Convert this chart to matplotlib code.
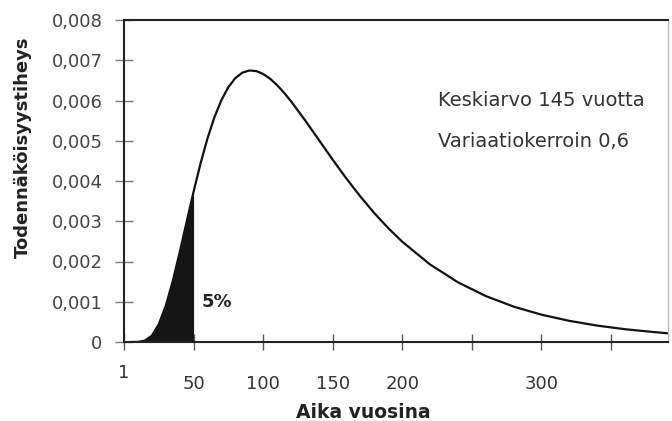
import numpy as np
import matplotlib
matplotlib.use("Agg")
import matplotlib.pyplot as plt
import matplotlib.transforms as mtransforms

# values (years, probability density)
years = [5, 10, 15, 20, 25, 30, 35, 40, 45, 50, 55, 60, 65, 70, 75, 80, 85, 90,
         95, 100, 105, 110, 115, 120, 130, 140, 150, 160, 170, 180, 190, 200,
         220, 240, 260, 280, 300, 320, 340, 360, 380, 391]
density = [0.0, 0.0000024, 0.0000332, 0.000158, 0.000439, 0.000896, 0.001507,
           0.002221, 0.002981, 0.003732, 0.004434, 0.005057, 0.005585, 0.006009,
           0.006331, 0.006555, 0.006690, 0.006745, 0.006732, 0.006660, 0.006541,
           0.006383, 0.006194, 0.005983, 0.005516, 0.005023, 0.004529, 0.004055,
           0.003610, 0.003199, 0.002827, 0.002491, 0.001926, 0.001484, 0.001142,
           0.000880, 0.000679, 0.000526, 0.000408, 0.000318, 0.000249, 0.000217]
shade_limit = 50  # lower 5 % tail

tick_pos = [0, 50, 100, 150, 200, 250, 300, 350]
tick_labels = ['1', '50', '100', '150', '200', '', '300', '']
ytick_pos = [0, 0.001, 0.002, 0.003, 0.004, 0.005, 0.006, 0.007, 0.008]
ytick_labels = ['0', '0,001', '0,002', '0,003', '0,004', '0,005', '0,006', '0,007', '0,008']

x = np.array(years)
y = np.array(density)

fig = plt.figure(figsize=(6.72, 4.21), dpi=100)
ax = fig.add_axes([124/672, 1 - 342/421, 544/672, 322/421])

ax.plot(x, y, color='#111111', lw=1.6)
mask = x <= shade_limit
ax.fill_between(x[mask], 0, y[mask], color='#151515', lw=0)

ax.set_xlim(0, 391)
ax.set_ylim(0, 0.008)

ax.set_xticks(tick_pos)
ax.set_xticklabels(tick_labels)
ax.set_yticks(ytick_pos)
ax.set_yticklabels(ytick_labels)

ax.tick_params(axis='x', direction='inout', length=11, width=1, pad=18,
               labelsize=13, labelcolor='#333333', color='#555555')
ax.tick_params(axis='y', direction='inout', length=13, width=1, pad=9,
               labelsize=13, labelcolor='#444444', color='#777777')

# the "1" sits a bit higher than the other labels
lbl = ax.get_xticklabels()[0]
lbl.set_transform(lbl.get_transform() + mtransforms.ScaledTranslation(0, 8/72, fig.dpi_scale_trans))

for side in ['left', 'bottom', 'top']:
    ax.spines[side].set_linewidth(1.5)
    ax.spines[side].set_color('#222222')
ax.spines['right'].set_linewidth(1)
ax.spines['right'].set_color('#bbbbbb')

fig.text(23/672, 1 - 147/421, 'Todennäköisyystiheys', rotation=90, ha='center', va='center',
         fontsize=13, fontweight='bold', color='#222222')
fig.text(363/672, 1 - 412/421, 'Aika vuosina', ha='center', va='center',
         fontsize=13.5, fontweight='bold', color='#222222')

ax.text(56, 0.00099, '5%', fontsize=13, fontweight='bold', color='#222222', va='center')
ax.text(226, 0.00601, 'Keskiarvo 145 vuotta', fontsize=14, color='#333333', va='center')
ax.text(226, 0.00497, 'Variaatiokerroin 0,6', fontsize=14, color='#333333', va='center')

fig.savefig('out.png', dpi=100)
